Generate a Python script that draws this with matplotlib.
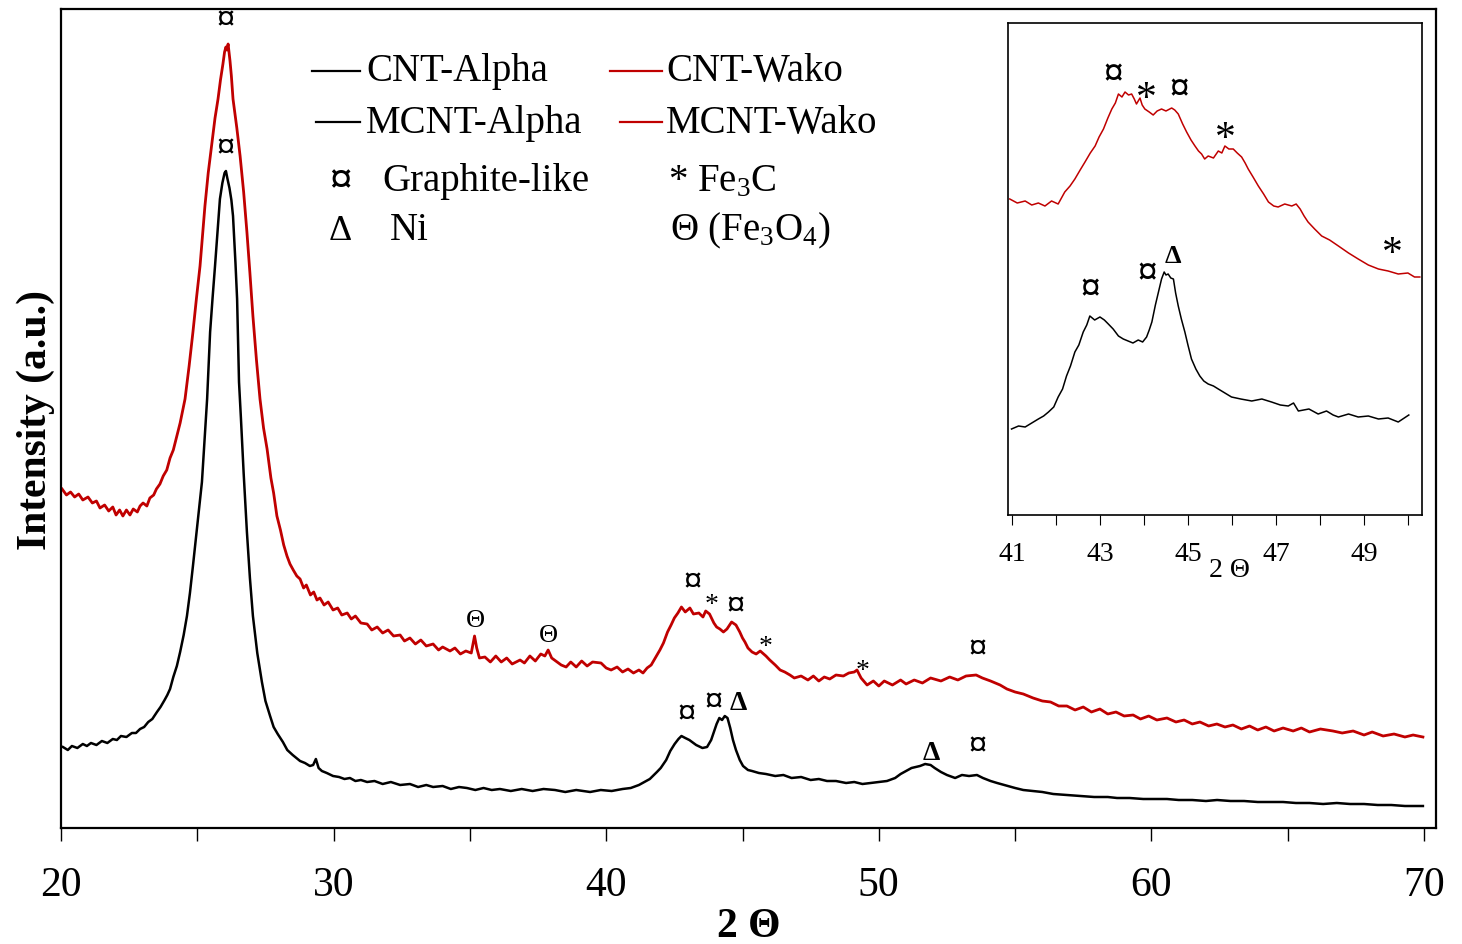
import numpy as np
import matplotlib
matplotlib.use('Agg')
import matplotlib.pyplot as plt

plt.rcParams['font.family'] = ['Liberation Serif', 'DejaVu Serif']
plt.rcParams['mathtext.fontset'] = 'custom'
plt.rcParams['mathtext.rm'] = 'Liberation Serif'
plt.rcParams['mathtext.it'] = 'Liberation Serif:italic'
plt.rcParams['mathtext.bf'] = 'Liberation Serif:bold'

RED = '#c00000'

# ---- full scan, 2 theta 20-70 (intensity in arbitrary units) ----
wako_x = [20.04, 20.2, 20.35, 20.5, 20.65, 20.8, 20.99, 21.15, 21.3, 21.43, 21.6, 21.75, 21.9, 22.02,
          22.15, 22.27, 22.4, 22.53, 22.65, 22.8, 22.9, 23.01, 23.15, 23.26, 23.4, 23.5, 23.63, 23.75,
          23.88, 24.0, 24.12, 24.25, 24.37, 24.55, 24.7, 24.84, 24.97, 25.1, 25.2, 25.28, 25.4, 25.54,
          25.65, 25.76, 25.85, 25.94, 26.0, 26.05, 26.09, 26.13, 26.2, 26.25, 26.31, 26.45, 26.57, 26.7,
          26.82, 26.93, 27.04, 27.17, 27.3, 27.43, 27.56, 27.7, 27.8, 27.92, 28.05, 28.17, 28.29, 28.4,
          28.52, 28.65, 28.77, 28.9, 29.0, 29.15, 29.27, 29.39, 29.5, 29.65, 29.8, 29.98, 30.15, 30.3,
          30.5, 30.65, 30.8, 31.0, 31.23, 31.4, 31.6, 31.8, 32.0, 32.2, 32.44, 32.6, 32.8, 33.0,
          33.2, 33.4, 33.65, 33.85, 34.0, 34.27, 34.45, 34.65, 34.85, 35.05, 35.12, 35.17, 35.25, 35.35,
          35.55, 35.75, 35.95, 36.15, 36.35, 36.55, 36.84, 37.0, 37.2, 37.4, 37.6, 37.75, 37.87, 38.0,
          38.2, 38.35, 38.53, 38.7, 38.9, 39.1, 39.3, 39.5, 39.81, 40.0, 40.18, 40.4, 40.6, 40.8,
          41.0, 41.2, 41.35, 41.5, 41.65, 41.8, 41.97, 42.1, 42.25, 42.38, 42.5, 42.63, 42.76, 42.9,
          43.07, 43.2, 43.4, 43.55, 43.65, 43.79, 43.95, 44.05, 44.17, 44.3, 44.43, 44.6, 44.76, 44.9,
          45.0, 45.09, 45.2, 45.35, 45.5, 45.65, 45.86, 46.0, 46.2, 46.38, 46.55, 46.74, 46.9, 47.15,
          47.4, 47.6, 47.8, 48.0, 48.2, 48.43, 48.7, 48.9, 49.1, 49.2, 49.35, 49.57, 49.8, 50.0,
          50.2, 50.5, 50.8, 51.0, 51.3, 51.6, 51.9, 52.28, 52.6, 52.9, 53.2, 53.57, 53.8, 54.1,
          54.45, 54.7, 55.0, 55.3, 55.66, 56.0, 56.3, 56.6, 56.9, 57.2, 57.5, 57.8, 58.11, 58.4,
          58.7, 59.0, 59.33, 59.6, 59.9, 60.2, 60.57, 60.9, 61.2, 61.5, 61.78, 62.1, 62.4, 62.7,
          62.99, 63.3, 63.6, 63.9, 64.2, 64.5, 64.83, 65.2, 65.5, 65.8, 66.2, 66.66, 67.0, 67.4,
          67.8, 68.1, 68.5, 68.9, 69.3, 69.6, 69.96]
wako_y = [339, 333, 336, 331, 334, 328, 331, 325, 327, 320, 323, 317, 321, 313,
          318, 312, 318, 313, 319, 316, 322, 325, 322, 330, 333, 339, 344, 352,
          358, 370, 378, 392, 405, 429, 462, 496, 530, 562, 595, 622, 655, 686,
          710, 729, 748, 764, 776, 781, 778, 784, 767, 752, 729, 700, 672, 636,
          596, 555, 512, 468, 429, 400, 379, 350, 335, 312, 298, 283, 272, 264,
          258, 252, 249, 240, 243, 233, 236, 228, 230, 223, 226, 218, 220, 213,
          215, 209, 212, 205, 204, 198, 201, 195, 198, 192, 193, 187, 190, 184,
          188, 182, 184, 178, 181, 177, 180, 174, 177, 175, 185, 192, 180, 170,
          171, 166, 172, 166, 170, 164, 168, 165, 172, 167, 174, 172, 178, 170,
          166, 163, 161, 166, 161, 167, 162, 166, 165, 160, 158, 161, 156, 159,
          155, 158, 155, 160, 163, 170, 178, 185, 196, 203, 210, 215, 221, 216,
          220, 214, 215, 211, 217, 214, 205, 201, 199, 196, 199, 206, 203, 196,
          190, 186, 180, 176, 174, 177, 172, 168, 163, 158, 156, 153, 150, 152,
          148, 152, 147, 151, 149, 153, 152, 155, 156, 158, 150, 143, 147, 142,
          147, 143, 148, 144, 148, 145, 150, 147, 151, 148, 152, 153, 150, 147,
          143, 139, 136, 134, 130, 127, 126, 122, 122, 118, 121, 116, 119, 114,
          116, 112, 113, 109, 112, 108, 110, 106, 108, 104, 106, 102, 104, 101,
          103, 99, 102, 98, 101, 97, 100, 97, 100, 96, 99, 97, 95, 97,
          93, 96, 92, 94, 91, 93, 91]

alpha_x = [20.07, 20.25, 20.4, 20.6, 20.8, 20.95, 21.1, 21.3, 21.5, 21.7, 21.9, 22.05, 22.2, 22.4,
           22.6, 22.75, 22.9, 23.05, 23.2, 23.35, 23.52, 23.65, 23.8, 23.9, 24.0, 24.12, 24.25, 24.37,
           24.5, 24.62, 24.73, 24.84, 25.0, 25.17, 25.27, 25.36, 25.47, 25.56, 25.65, 25.75, 25.83, 25.92,
           26.0, 26.05, 26.1, 26.18, 26.25, 26.31, 26.4, 26.46, 26.53, 26.6, 26.7, 26.82, 26.93, 27.04,
           27.2, 27.37, 27.5, 27.67, 27.8, 27.95, 28.14, 28.3, 28.5, 28.77, 28.95, 29.13, 29.25, 29.35,
           29.45, 29.57, 29.75, 29.98, 30.2, 30.4, 30.6, 30.8, 31.0, 31.23, 31.5, 31.8, 32.1, 32.44,
           32.8, 33.1, 33.4, 33.65, 34.0, 34.3, 34.6, 34.89, 35.2, 35.5, 35.8, 36.1, 36.5, 36.9,
           37.3, 37.7, 38.12, 38.5, 38.9, 39.41, 39.8, 40.2, 40.6, 40.9, 41.2, 41.4, 41.6, 41.86,
           42.0, 42.2, 42.35, 42.51, 42.65, 42.76, 42.9, 43.05, 43.15, 43.3, 43.53, 43.7, 43.85, 43.95,
           44.05, 44.15, 44.25, 44.35, 44.45, 44.55, 44.65, 44.76, 44.9, 45.02, 45.2, 45.35, 45.6, 45.86,
           46.2, 46.5, 46.8, 47.15, 47.5, 47.8, 48.1, 48.43, 48.8, 49.1, 49.4, 49.71, 50.0, 50.3,
           50.6, 50.8, 51.0, 51.2, 51.51, 51.7, 51.9, 52.05, 52.28, 52.5, 52.8, 53.05, 53.31, 53.6,
           53.82, 54.1, 54.34, 54.6, 55.0, 55.3, 55.66, 56.0, 56.4, 56.9, 57.4, 57.9, 58.4, 58.74,
           59.2, 59.7, 60.1, 60.57, 61.0, 61.5, 62.0, 62.41, 62.9, 63.4, 63.9, 64.4, 64.83, 65.3,
           65.8, 66.3, 66.8, 67.29, 67.8, 68.3, 68.8, 69.3, 69.96]
alpha_y = [81, 78, 82, 80, 84, 82, 85, 83, 87, 85, 89, 88, 92, 91,
           95, 95, 99, 101, 106, 109, 116, 121, 128, 133, 139, 151, 162, 176,
           193, 212, 235, 262, 303, 346, 390, 429, 496, 530, 562, 600, 629, 645,
           655, 657, 650, 640, 628, 612, 565, 529, 446, 410, 355, 296, 250, 212,
           175, 146, 127, 112, 101, 94, 86, 78, 73, 67, 65, 62, 63, 69,
           60, 57, 55, 52, 51, 49, 50, 47, 48, 46, 47, 44, 46, 43,
           44, 41, 43, 41, 42, 39, 41, 40, 38, 40, 38, 39, 37, 39,
           37, 39, 38, 36, 38, 36, 38, 37, 39, 40, 43, 46, 49, 56,
           60, 68, 77, 84, 89, 92, 90, 88, 86, 83, 80, 81, 88, 96,
           104, 110, 108, 112, 110, 100, 88, 78, 68, 62, 58, 57, 55, 54,
           52, 53, 50, 51, 48, 49, 47, 47, 45, 46, 44, 45, 46, 47,
           50, 54, 57, 60, 62, 64, 63, 60, 56, 53, 50, 53, 52, 53,
           50, 47, 45, 43, 40, 38, 37, 36, 34, 33, 32, 31, 31, 30,
           30, 29, 29, 29, 28, 28, 27, 28, 27, 27, 26, 26, 26, 25,
           25, 24, 25, 24, 24, 23, 23, 22, 22]

# ---- zoomed scan, 2 theta 41-50 ----
wako_zx = [40.95, 41.12, 41.3, 41.45, 41.6, 41.75, 41.9, 42.05, 42.2, 42.32, 42.43, 42.55, 42.66, 42.78,
           42.89, 42.98, 43.08, 43.18, 43.27, 43.35, 43.42, 43.5, 43.57, 43.65, 43.72, 43.78, 43.83, 43.91,
           43.96, 44.02, 44.12, 44.21, 44.3, 44.4, 44.5, 44.63, 44.7, 44.78, 44.88, 44.97, 45.07, 45.16,
           45.24, 45.31, 45.38, 45.46, 45.58, 45.69, 45.77, 45.84, 45.93, 46.03, 46.12, 46.22, 46.3, 46.37,
           46.48, 46.6, 46.72, 46.83, 46.95, 47.05, 47.2, 47.36, 47.46, 47.55, 47.64, 47.73, 47.88, 48.04,
           48.22, 48.42, 48.65, 48.87, 49.1, 49.33, 49.55, 49.78, 50.0, 50.15, 50.27]
wako_zy = [316, 312, 314, 310, 312, 309, 314, 311, 323, 329, 336, 345, 353, 362,
           369, 378, 386, 397, 406, 412, 421, 418, 423, 420, 421, 416, 411, 417,
           410, 406, 403, 400, 404, 406, 404, 407, 405, 401, 391, 383, 375, 369,
           364, 361, 356, 359, 357, 364, 362, 369, 366, 366, 362, 358, 352, 346,
           338, 329, 321, 313, 309, 308, 311, 309, 311, 306, 299, 293, 286, 279,
           275, 269, 262, 256, 250, 246, 244, 241, 242, 238, 238]

alpha_zx = [40.99, 41.15, 41.3, 41.45, 41.6, 41.72, 41.83, 41.95, 42.05, 42.15, 42.24, 42.33, 42.43, 42.52,
            42.62, 42.7, 42.77, 42.88, 43.0, 43.1, 43.19, 43.3, 43.42, 43.53, 43.64, 43.75, 43.87, 43.97,
            44.06, 44.12, 44.18, 44.26, 44.33, 44.4, 44.46, 44.5, 44.55, 44.61, 44.67, 44.72, 44.78, 44.85,
            44.93, 45.0, 45.08, 45.18, 45.27, 45.36, 45.46, 45.58, 45.69, 45.84, 45.99, 46.2, 46.45, 46.68,
            46.9, 47.1, 47.28, 47.4, 47.51, 47.75, 47.96, 48.15, 48.3, 48.42, 48.65, 48.87, 49.1, 49.33,
            49.55, 49.78, 50.02]
alpha_zy = [86, 89, 88, 92, 96, 99, 103, 108, 118, 126, 139, 149, 163, 170,
            183, 190, 199, 195, 198, 195, 191, 186, 179, 176, 174, 172, 175, 173,
            178, 185, 193, 210, 223, 236, 243, 240, 241, 237, 236, 222, 209, 196,
            183, 170, 156, 146, 139, 134, 131, 129, 126, 122, 118, 116, 114, 116,
            113, 110, 109, 112, 104, 106, 101, 104, 100, 98, 101, 98, 99, 96,
            97, 93, 100]

# peak labels
peak_sym = ['¤', '¤', 'Θ', 'Θ', '¤', '*', '¤', '*', '*', '¤', '¤', '¤', 'Δ', 'Δ', '¤']
peak_x = [26.05, 26.02, 35.19, 37.87, 43.15, 43.88, 44.76, 45.83, 49.42, 53.64,
          42.96, 43.95, 44.84, 51.92, 53.64]
peak_y = [807, 679, 208, 193, 245, 232, 221, 191, 166, 178, 113, 125, 126, 75, 81]

zpeak_sym = ['¤', '*', '¤', '*', '*', '¤', '¤', 'Δ']
zpeak_x = [43.30, 44.05, 44.80, 45.86, 49.64, 42.77, 44.07, 44.66]
zpeak_y = [439, 428, 424, 388, 273, 224, 240, 259]

W, H = 1462, 945
fig = plt.figure(figsize=(W / 100, H / 100), dpi=100)
ax = fig.add_axes([61 / W, 1 - 829 / H, 1375 / W, 819 / H])

ax.plot(wako_x, wako_y, color=RED, lw=2.0)
ax.plot(alpha_x, alpha_y, color='black', lw=1.8)

ax.set_xlim(20, 70.44)
ax.set_ylim(0, 819)
ax.set_yticks([])
ax.set_xticks(np.arange(20, 71, 10))
ax.set_xticks(np.arange(25, 70, 10), minor=True)
ax.tick_params(axis='x', which='both', direction='out', length=9, width=1.0, pad=18, labelsize=30)
for s in ax.spines.values():
    s.set_linewidth(1.6)
ax.set_xlabel('2 Θ', fontsize=30, fontweight='bold', labelpad=2)
ax.set_ylabel('Intensity (a.u.)', fontsize=30, fontweight='bold', labelpad=4)

for s, x, y in zip(peak_sym, peak_x, peak_y):
    if s == 'Δ':
        ax.text(x, y, s, fontsize=20, fontweight='bold', ha='center', va='center')
    elif s == '*':
        ax.text(x, y - 9, s, fontsize=20, ha='center', va='center')
    elif s == 'Θ':
        ax.text(x, y, s, fontsize=19, ha='center', va='center')
    else:
        ax.text(x, y, s, fontsize=26, fontweight='bold', ha='center', va='center')

# legend drawn by hand
def fx(px):
    return px / W

def fy(py):
    return 1 - py / H

fig.add_artist(plt.Line2D([fx(312), fx(360)], [fy(72), fy(72)], color='black', lw=1.6))
fig.add_artist(plt.Line2D([fx(610), fx(662)], [fy(72), fy(72)], color=RED, lw=1.6))
fig.add_artist(plt.Line2D([fx(316), fx(360)], [fy(123), fy(123)], color='black', lw=1.6))
fig.add_artist(plt.Line2D([fx(620), fx(662)], [fy(123), fy(123)], color=RED, lw=1.6))
fig.text(fx(366), fy(72), 'CNT-Alpha', fontsize=28, va='center')
fig.text(fx(666), fy(72), 'CNT-Wako', fontsize=28, va='center')
fig.text(fx(366), fy(123), 'MCNT-Alpha', fontsize=28, va='center')
fig.text(fx(666), fy(123), 'MCNT-Wako', fontsize=28, va='center')
fig.text(fx(340), fy(182), '¤', fontsize=32, fontweight='bold', ha='center', va='center')
fig.text(fx(382), fy(182), 'Graphite-like', fontsize=28, va='center')
fig.text(fx(668), fy(182), r'* Fe$_\mathregular{3}$C', fontsize=28, va='center')
fig.text(fx(340), fy(231), 'Δ', fontsize=26, ha='center', va='center')
fig.text(fx(390), fy(231), 'Ni', fontsize=28, va='center')
fig.text(fx(670), fy(231), r'Θ (Fe$_\mathregular{3}$O$_\mathregular{4}$)', fontsize=28, va='center')

# inset
axi = fig.add_axes([1008 / W, 1 - 516 / H, 414 / W, 492 / H])
axi.plot(wako_zx, wako_zy, color=RED, lw=1.1)
axi.plot(alpha_zx, alpha_zy, color='black', lw=1.1)
axi.set_xlim(40.91, 50.32)
axi.set_ylim(0, 492)
axi.set_yticks([])
axi.set_xticks(np.arange(41, 50.5, 2))
axi.set_xticks(np.arange(42, 50.5, 2), minor=True)
axi.tick_params(axis='x', which='both', direction='out', length=7, width=0.8, pad=12, labelsize=20)
for s in axi.spines.values():
    s.set_linewidth(1.2)
axi.text(0.536, -0.11, '2 Θ', transform=axi.transAxes, fontsize=20, ha='center', va='center')

for s, x, y in zip(zpeak_sym, zpeak_x, zpeak_y):
    if s == 'Δ':
        axi.text(x, y, s, fontsize=19, fontweight='bold', ha='center', va='center')
    elif s == '*':
        axi.text(x, y - 12, s, fontsize=30, ha='center', va='center')
    else:
        axi.text(x, y, s, fontsize=28, fontweight='bold', ha='center', va='center')

fig.savefig('out.png', dpi=100)
